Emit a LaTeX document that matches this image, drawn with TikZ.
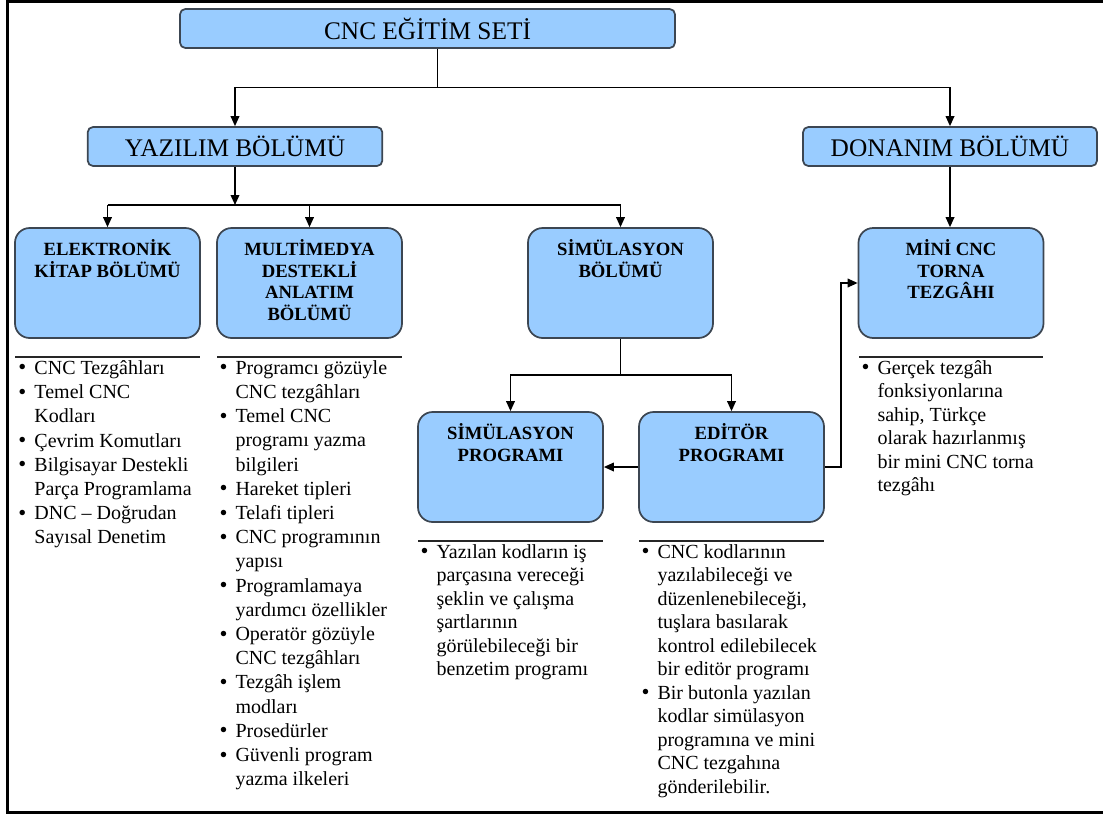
\documentclass[tikz,border=0pt]{standalone}
\usepackage{fontspec}
\setmainfont{Liberation Serif}
\usetikzlibrary{arrows.meta}

\definecolor{boxblue}{RGB}{153,204,255}
\definecolor{boxline}{RGB}{60,70,82}

\newcommand{\bitem}{\makebox[12pt][l]{\raisebox{-0.4pt}{\fontsize{17}{17}\selectfont\textbullet}}}
\newcommand{\bcont}{\hspace*{12pt}}

\tikzset{every picture/.style={line width=0.75pt}}
\tikzset{
  topbox/.style={draw=boxline, line width=1.3pt, fill=boxblue, rounded corners=4pt,
    minimum height=29.25pt, inner sep=0pt, font=\fontsize{19}{21}\selectfont},
  bigbox/.style={draw=boxline, line width=1.3pt, fill=boxblue, rounded corners=11pt,
    minimum width=138.75pt, minimum height=82.5pt, inner sep=0pt},
  boxtitle/.style={anchor=north, inner sep=0pt, align=center,
    font=\fontsize{14}{16.3}\selectfont\bfseries,
    execute at begin node={\rule{0pt}{13pt}}},
  notes/.style={anchor=north west, inner sep=0pt, align=left,
    font=\fontsize{15}{17.6}\selectfont,
    execute at begin node={\rule{0pt}{14pt}}},
  conn/.style={line width=1.1pt},
  arr/.style={line width=1.1pt, -{Triangle[length=7.5pt,width=6.5pt]}},
  sepline/.style={line width=1.1pt, black!85}
}

\begin{document}
\begin{tikzpicture}[x=0.75pt,y=0.75pt,yscale=-1,xscale=1]
\useasboundingbox (0,0) rectangle (1103,814);

%Frame
\draw [line width=2.25pt] (1103,1.5) -- (7,1.5) -- (7,812.5) -- (1103,812.5);

%Rounded Rect
\draw (427.5,28.5) node [topbox, minimum width=371.25pt] (cnc) {CNC EĞİTİM SETİ};
%Rounded Rect
\draw (235,146.5) node [topbox, minimum width=221pt] (yaz) {YAZILIM BÖLÜMÜ};
%Rounded Rect
\draw (950,146.5) node [topbox, minimum width=220.5pt] (don) {DONANIM BÖLÜMÜ};

%Rounded Rect
\draw (107.5,283) node [bigbox] (elek) {};
\draw (309.5,283) node [bigbox] (mult) {};
\draw (620.5,283) node [bigbox] (simb) {};
\draw (951,283) node [bigbox] (mini) {};
\draw (510.5,467) node [bigbox] (simp) {};
\draw (731.5,467) node [bigbox] (edit) {};

% Text Node
\draw (107.5,239) node [boxtitle] (elekt) {ELEKTRONİK\\KİTAP BÖLÜMÜ};
% Text Node
\draw (309.5,239) node [boxtitle] (multt) {MULTİMEDYA\\DESTEKLİ\\ANLATIM\\BÖLÜMÜ};
% Text Node
\draw (620.5,239) node [boxtitle] (simbt) {SİMÜLASYON\\BÖLÜMÜ};
% Text Node
\draw (951,239) node [boxtitle] (minit) {MİNİ CNC\\TORNA\\TEZGÂHI};
% Text Node
\draw (510.5,423) node [boxtitle] (simpt) {SİMÜLASYON\\PROGRAMI};
% Text Node
\draw (731.5,423) node [boxtitle] (editt) {EDİTÖR\\PROGRAMI};

%Straight Lines
\coordinate (topfork) at (437.5,87.5);
\draw [conn] (cnc.south -| topfork) -- (topfork);
\draw [arr] (topfork) -| (yaz.north);
\draw [arr] (topfork) -| (don.north);

%Straight Lines
\coordinate (yazfork) at (235,205);
\draw [arr] (yaz.south) -- (yazfork);
\draw [conn] (elek.north |- yazfork) -- (simb.north |- yazfork);
\draw [arr] (elek.north |- yazfork) -- (elek.north);
\draw [arr] (mult.north |- yazfork) -- (mult.north);
\draw [arr] (simb.north |- yazfork) -- (simb.north);
\draw [arr] (don.south) -- (don.south |- mini.north);

%Straight Lines
\coordinate (simfork) at (620.5,375);
\draw [conn] (simb.south) -- (simfork);
\draw [arr] (simfork) -| (simp.north);
\draw [arr] (simfork) -| (edit.north);
\draw [arr] (edit.west) -- (simp.east);
\coordinate (turn) at (841,467);
\draw [arr] (edit.east) -- (turn) |- (mini.west);

%Straight Lines
\draw [sepline] (15,357) -- (200,357);
\draw [sepline] (217,357) -- (402,357);
\draw [sepline] (859,357) -- (1043,357);
\draw [sepline] (418,541) -- (603,541);
\draw [sepline] (639,541) -- (824,541);

% Text Node
\draw (18,360) node [notes, font=\fontsize{15}{18.15}\selectfont] (elekn) {\bitem CNC Tezgâhları\\
  \bitem Temel CNC\\ \bcont Kodları\\
  \bitem Çevrim Komutları\\
  \bitem Bilgisayar Destekli\\ \bcont Parça Programlama\\
  \bitem DNC – Doğrudan\\ \bcont Sayısal Denetim};
% Text Node
\draw (219,360) node [notes, font=\fontsize{15}{18.15}\selectfont] (multn) {\bitem Programcı gözüyle\\ \bcont CNC tezgâhları\\
  \bitem Temel CNC\\ \bcont programı yazma\\ \bcont bilgileri\\
  \bitem Hareket tipleri\\
  \bitem Telafi tipleri\\
  \bitem CNC programının\\ \bcont yapısı\\
  \bitem Programlamaya\\ \bcont yardımcı özellikler\\
  \bitem Operatör gözüyle\\ \bcont CNC tezgâhları\\
  \bitem Tezgâh işlem\\ \bcont modları\\
  \bitem Prosedürler\\
  \bitem Güvenli program\\ \bcont yazma ilkeleri};
% Text Node
\draw (861,360) node [notes] (minin) {\bitem Gerçek tezgâh\\ \bcont fonksiyonlarına\\
  \bcont sahip, Türkçe\\ \bcont olarak hazırlanmış\\ \bcont bir mini CNC torna\\
  \bcont tezgâhı};
% Text Node
\draw (420,544) node [notes] (simpn) {\bitem Yazılan kodların iş\\ \bcont parçasına vereceği\\
  \bcont şeklin ve çalışma\\ \bcont şartlarının\\ \bcont görülebileceği bir\\
  \bcont benzetim programı};
% Text Node
\draw (641,544) node [notes] (editn) {\bitem CNC kodlarının\\ \bcont yazılabileceği ve\\
  \bcont düzenlenebileceği,\\ \bcont tuşlara basılarak\\ \bcont kontrol edilebilecek\\
  \bcont bir editör programı\\
  \bitem Bir butonla yazılan\\ \bcont kodlar simülasyon\\ \bcont programına ve mini\\
  \bcont CNC tezgahına\\ \bcont gönderilebilir.};

\end{tikzpicture}
\end{document}
